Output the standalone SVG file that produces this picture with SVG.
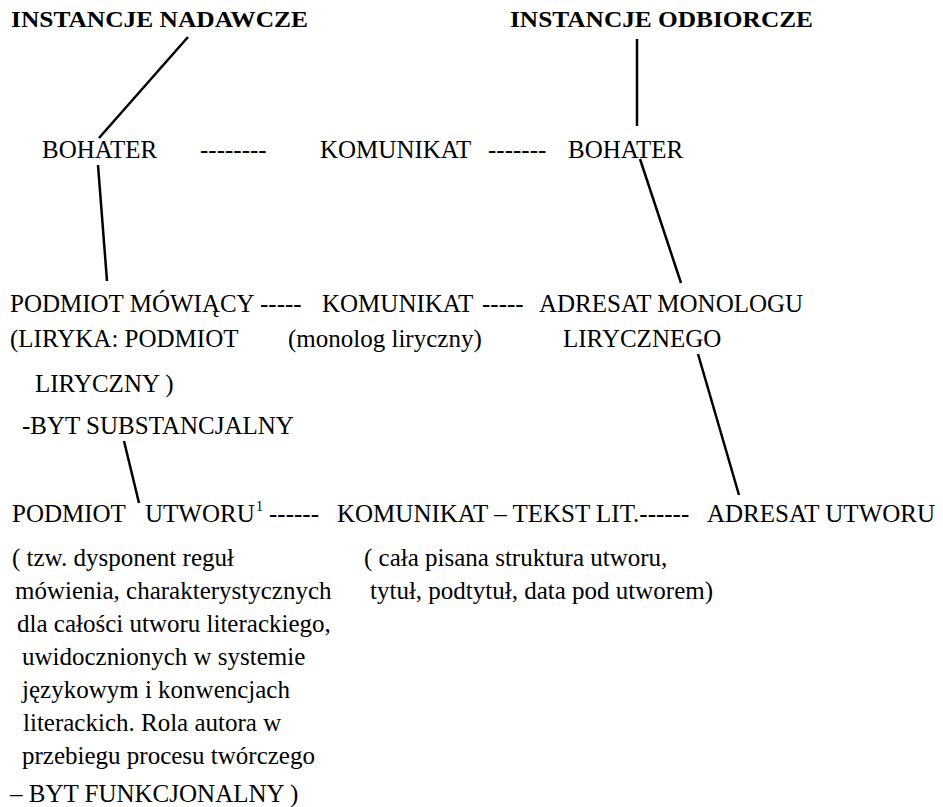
<svg xmlns="http://www.w3.org/2000/svg" width="943" height="807" viewBox="0 0 943 807">
<style>
  text { font-family: "Liberation Serif", "Times New Roman", serif; font-size: 25px; fill: #000; }
  .h { font-weight: bold; font-size: 23px; }
  .sup { font-size: 14px; }
  .c line { stroke: #000; stroke-width: 2.5; stroke-linecap: butt; }
</style>
<rect width="943" height="807" fill="#fff"/>
<g id="nadawcze"><text class="h" x="11" y="27" textLength="297" lengthAdjust="spacingAndGlyphs">INSTANCJE NADAWCZE</text></g>
<g id="odbiorcze"><text class="h" x="510" y="27" textLength="303" lengthAdjust="spacingAndGlyphs">INSTANCJE ODBIORCZE</text></g>
<g id="bohater1"><text x="42" y="158">BOHATER</text></g>
<g id="dash1"><text x="200" y="158">--------</text></g>
<g id="komunikat1"><text x="320" y="158">KOMUNIKAT</text></g>
<g id="dash2"><text x="488" y="158">-------</text></g>
<g id="bohater2"><text x="568" y="158">BOHATER</text></g>
<g id="podmiot-mowiacy">
  <text x="10" y="312">PODMIOT MÓWIĄCY</text>
  <text x="10" y="347">(LIRYKA: PODMIOT</text>
  <text x="35" y="392">LIRYCZNY )</text>
  <text x="22" y="434">-BYT SUBSTANCJALNY</text>
</g>
<g id="dash3"><text x="260" y="312">-----</text></g>
<g id="komunikat2">
  <text x="322" y="312">KOMUNIKAT</text>
  <text x="288" y="347">(monolog liryczny)</text>
</g>
<g id="dash4"><text x="482" y="312">-----</text></g>
<g id="adresat-monologu">
  <text x="539" y="312">ADRESAT MONOLOGU</text>
  <text x="563" y="347">LIRYCZNEGO</text>
</g>
<g id="podmiot-utworu">
  <text x="12" y="522">PODMIOT</text>
  <text x="145" y="522">UTWORU</text>
  <text class="sup" x="256" y="511">1</text>
  <text x="12" y="566">( tzw. dysponent reguł</text>
  <text x="15" y="599">mówienia, charakterystycznych</text>
  <text x="17" y="632">dla całości utworu literackiego,</text>
  <text x="22" y="665">uwidocznionych w systemie</text>
  <text x="22" y="698">językowym i konwencjach</text>
  <text x="23" y="731">literackich. Rola autora w</text>
  <text x="22" y="764">przebiegu procesu twórczego</text>
  <text x="10" y="802">– BYT FUNKCJONALNY )</text>
</g>
<g id="dash5"><text x="269" y="522">------</text></g>
<g id="komunikat3">
  <text x="337" y="522">KOMUNIKAT – TEKST LIT.------</text>
  <text x="364" y="566">( cała pisana struktura utworu,</text>
  <text x="370" y="599">tytuł, podtytuł, data pod utworem)</text>
</g>
<g id="adresat-utworu"><text x="707" y="522">ADRESAT UTWORU</text></g>
<g id="connectors" class="c">
  <line x1="188" y1="37" x2="99" y2="138"/>
  <line x1="637" y1="39" x2="637" y2="126"/>
  <line x1="98" y1="165" x2="107" y2="281"/>
  <line x1="640" y1="159" x2="681" y2="283"/>
  <line x1="698" y1="354" x2="739" y2="495"/>
  <line x1="124" y1="441" x2="139" y2="503"/>
</g>
</svg>
